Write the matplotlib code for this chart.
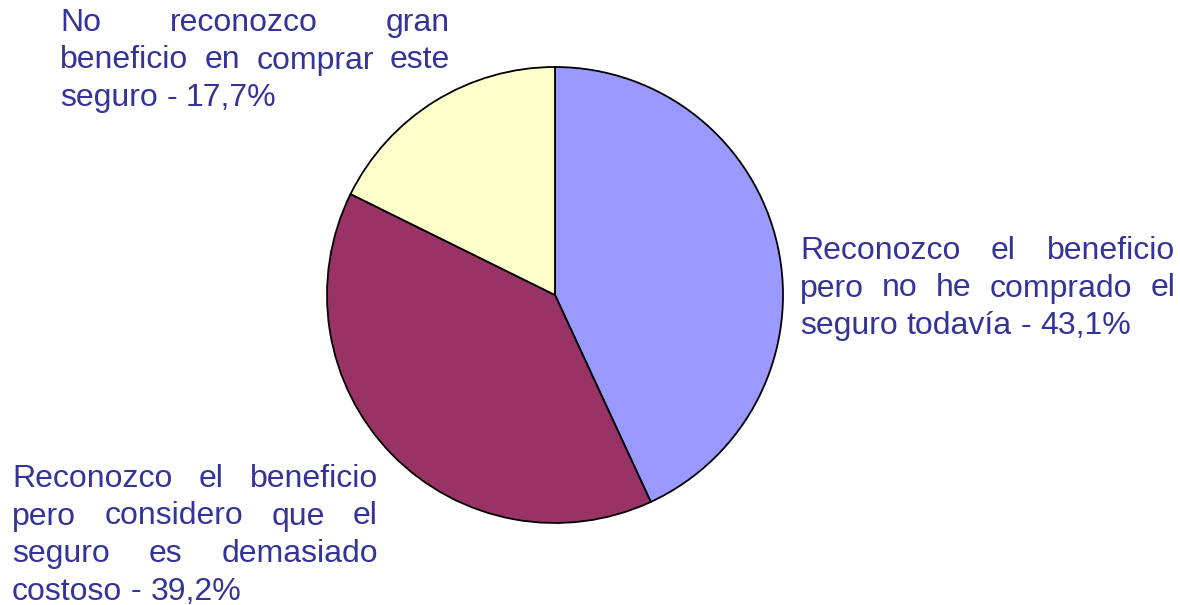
import matplotlib
matplotlib.use("Agg")
import matplotlib.pyplot as plt

# data
labels = ["Reconozco el beneficio pero no he comprado el seguro todavía",
          "Reconozco el beneficio pero considero que el seguro es demasiado costoso",
          "No reconozco gran beneficio en comprar este seguro"]
values = [43.1, 39.2, 17.7]
colors = ["#9999FF", "#993366", "#FFFFCC"]

# label lines as they wrap in the picture
label_lines = [
    ["Reconozco el beneficio", "pero no he comprado el", "seguro todavía - 43,1%"],
    ["Reconozco el beneficio", "pero considero que el", "seguro es demasiado", "costoso - 39,2%"],
    ["No reconozco gran", "beneficio en comprar este", "seguro - 17,7%"],
]
# left, right, first line centre (pixels from top)
label_boxes = [(800, 1175, 251), (12, 378, 479), (60, 450, 23)]

W, H = 1180, 605
text_color = "#333399"
fsize = 23
line_gap = 37.5

fig = plt.figure(figsize=(W / 100, H / 100), dpi=100)
ax = fig.add_axes([0, 0, 1, 1])
ax.pie(values, colors=colors, startangle=90, counterclock=False,
       center=(555, H - 295), radius=228,
       wedgeprops=dict(edgecolor="black", linewidth=1.3))
ax.set_xlim(0, W)
ax.set_ylim(0, H)
ax.set_aspect("equal")
ax.axis("off")

renderer = fig.canvas.get_renderer()


def justified(lines, left, right, top):
    for i, line in enumerate(lines):
        y = H - (top + i * line_gap)
        words = line.split(" ")
        txts = [ax.text(0, y, w, fontsize=fsize, color=text_color,
                        family="Liberation Sans", va="center", ha="left")
                for w in words]
        widths = [t.get_window_extent(renderer).width for t in txts]
        last = i == len(lines) - 1
        if last or len(words) == 1:
            sp = ax.text(0, 0, "a b", fontsize=fsize, family="Liberation Sans")
            sp2 = ax.text(0, 0, "ab", fontsize=fsize, family="Liberation Sans")
            gap = sp.get_window_extent(renderer).width - sp2.get_window_extent(renderer).width
            sp.remove(); sp2.remove()
        else:
            gap = (right - left - sum(widths)) / (len(words) - 1)
        x = left
        for t, w in zip(txts, widths):
            t.set_x(x)
            x += w + gap


for lines, (l, r, t) in zip(label_lines, label_boxes):
    justified(lines, l, r, t)

fig.savefig("out.png", dpi=100)
